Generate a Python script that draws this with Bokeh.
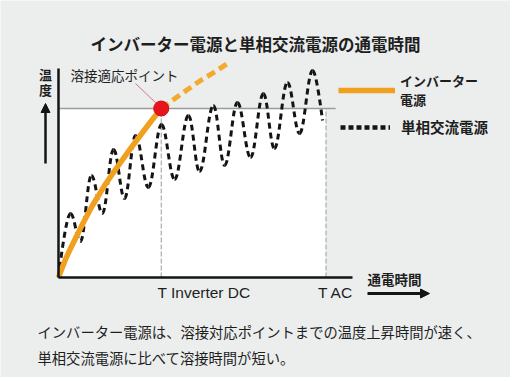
from bokeh.plotting import figure
from bokeh.models import Range1d, Label, Arrow, NormalHead, Legend, LegendItem, FixedTicker
from bokeh.embed import file_html
from bokeh.resources import INLINE
import numpy as np

# ---------------- data (time: % of T AC, temperature: % of welding temperature)
T_DC = 38.4
T_AC = 100.0
WELD = 100.0

inv_t = [0, 1.1, 2.6, 4.5, 6.7, 9.3, 12.7, 17.2, 22.1, 26.9, 31.4, 35.1, 38.4]
inv_T = [0, 4.7, 10.7, 17.2, 24.3, 32.5, 42.6, 54.4, 65.7, 76.3, 85.8, 93.5, 100]
inv_ext_t = [38.4, 45.6, 53.1, 58.7, 64.3]
inv_ext_T = [100, 108.3, 116.6, 121.9, 127.8]

ac_t = [0, 4.5, 8.2, 12.3, 16.4, 20.6, 24.7, 28.8, 33.6, 38.5, 43.4, 48.6,
        52.7, 57.9, 62.1, 66.9, 71.8, 76.6, 80.7, 85.6, 90.1, 95.0, 98.7]
ac_T = [0, 37.9, 21.3, 60.4, 37.9, 75.7, 46.7, 84.0, 53.3, 90.5, 58.0, 95.9,
        62.7, 101.8, 66.3, 103.6, 71.0, 108.9, 76.3, 115.4, 85.2, 122.5, 92.9]

TITLE = "インバーター電源と単相交流電源の通電時間"
Y_LABEL = ["温", "度"]
X_LABEL = "通電時間"
POINT_LABEL = "溶接適応ポイント"
TICK_LABELS = ["T Inverter DC", "T AC"]
LEGEND_LABELS = ["インバーター\n電源", "単相交流電源"]
NOTE = ["インバーター電源は、溶接対応ポイントまでの温度上昇時間が速く、",
        "単相交流電源に比べて溶接時間が短い。"]

# ---------------- layout helpers (canvas pixel -> data)
W, H = 510, 377
KX = 2.675
KY = 1.69
ORG_X, ORG_Y = 58, 277
def tx(px):
    return (px - ORG_X) / KX
def ty(py):
    return (ORG_Y - py) / KY

BG = "#eceeee"
ORANGE = "#f0a01e"
ORANGE_D = "#f2ab30"
BLACK = "#141414"
TXT = "#1e1e1e"
JP = "Noto Sans CJK JP"

p = figure(width=W, height=H, title=None, toolbar_location=None,
           output_backend="svg",
           x_range=Range1d(tx(0), tx(W)), y_range=Range1d(ty(H), ty(0)),
           min_border=0)
p.background_fill_color = BG
p.border_fill_color = BG
p.outline_line_color = None
p.grid.visible = False

for ax, bnd in ((p.xaxis, (0, tx(352))), (p.yaxis, (0, ty(68)))):
    ax.fixed_location = 0
    ax.ticker = FixedTicker(ticks=[])
    ax.minor_tick_line_color = None
    ax.major_tick_line_color = None
    ax.major_label_text_font_size = "0px"
    ax.axis_line_color = BLACK
    ax.axis_line_width = 2.5
    ax.bounds = bnd

# white area below the welding temperature
p.quad(left=[0], right=[T_AC], bottom=[0], top=[WELD],
       fill_color="white", line_color=None, level="underlay")
# welding temperature line
p.segment(x0=[0], y0=[WELD], x1=[T_AC + 3.6], y1=[WELD],
          line_color="#9a9a9a", line_width=1.5, level="underlay")
# time markers
p.segment(x0=[T_DC, T_AC], y0=[0, 0], x1=[T_DC, T_AC], y1=[WELD, WELD],
          line_color="#9c9c9c", line_width=1, line_dash="5 2", level="underlay")

# single-phase AC curve (smooth through read extrema)
x0 = np.array(ac_t[:-1]); x1 = np.array(ac_t[1:])
y0 = np.array(ac_T[:-1]); y1 = np.array(ac_T[1:])
d = x1 - x0
cx0 = x0 + 0.38 * d; cy0 = y0.copy()
cx1 = x1 - 0.38 * d; cy1 = y1.copy()
cx0[0], cy0[0] = x0[0], y0[0]
cx1[-1], cy1[-1] = x1[-1], y1[-1]
p.bezier(x0=x0, y0=y0, x1=x1, y1=y1, cx0=cx0, cy0=cy0, cx1=cx1, cy1=cy1,
         line_color=BLACK, line_width=3, line_dash="6 4")

# inverter curve
r_inv = p.line(inv_t, inv_T, line_color=ORANGE, line_width=5.5,
               line_join="round")
p.line(inv_ext_t, inv_ext_T, line_color=ORANGE_D, line_width=5,
       line_dash="9 5")

# callout line and point
p.segment(x0=[tx(135)], y0=[ty(83)], x1=[T_DC - 2.0], y1=[WELD + 3.3],
          line_color="#d8708a", line_width=1)
p.scatter([T_DC], [WELD], size=15, fill_color="#e8141c", line_color="#cf0a12")

# legend proxy for the AC series (single point: draws nothing in the plot)
r_ac_leg = p.line(x=[ac_t[0]], y=[ac_T[0]], line_color=BLACK, line_width=4.5,
                  line_dash="5 3")

leg1 = Legend(items=[LegendItem(label=LEGEND_LABELS[0], renderers=[r_inv])],
              location=(338, 268), glyph_width=57, glyph_height=30,
              label_height=30, label_standoff=5)
leg2 = Legend(items=[LegendItem(label=LEGEND_LABELS[1], renderers=[r_ac_leg])],
              location=(340, 240), glyph_width=50, glyph_height=20,
              label_height=20, label_standoff=11)
for lg, fs, lh in ((leg1, "13px", 0.85), (leg2, "14.5px", 1.1)):
    lg.background_fill_alpha = 0
    lg.border_line_alpha = 0
    lg.padding = 0
    lg.margin = 0
    lg.spacing = 0
    lg.label_text_font = JP
    lg.label_text_font_size = fs
    lg.label_text_font_style = "bold"
    lg.label_text_color = TXT
    lg.label_text_line_height = lh
    p.add_layout(lg)

def lab(x, y, text, size, bold=False, align="left", font=JP):
    p.add_layout(Label(x=x, y=y, text=text, text_font=font,
                       text_font_size=size, text_align=align,
                       text_baseline="middle", text_color=TXT,
                       text_font_style="bold" if bold else "normal"))

lab(tx(255), ty(43), TITLE, "16.5px", bold=True, align="center")
lab(tx(70), ty(74), POINT_LABEL, "13.5px")
lab(tx(45), ty(74), Y_LABEL[0], "13px", bold=True, align="center")
lab(tx(45), ty(89), Y_LABEL[1], "13px", bold=True, align="center")
lab(tx(367), ty(278), X_LABEL, "13.5px", bold=True)
lab(T_DC - 1.4, ty(292), TICK_LABELS[0], "15.5px", font="Liberation Sans")
lab(T_AC - 3.0, ty(292), TICK_LABELS[1], "15.5px", font="Liberation Sans")
lab(tx(37), ty(331), NOTE[0], "14.3px")
lab(tx(37), ty(357), NOTE[1], "14.3px")

# axis arrows
p.add_layout(Arrow(end=NormalHead(size=9, fill_color=BLACK, line_color=BLACK),
                   x_start=tx(45), y_start=ty(163), x_end=tx(45), y_end=ty(103),
                   line_color=BLACK, line_width=2.5))
p.add_layout(Arrow(end=NormalHead(size=9, fill_color=BLACK, line_color=BLACK),
                   x_start=tx(367), y_start=ty(293), x_end=tx(429), y_end=ty(293),
                   line_color=BLACK, line_width=3))

open("out.html", "w").write(file_html(p, INLINE))
